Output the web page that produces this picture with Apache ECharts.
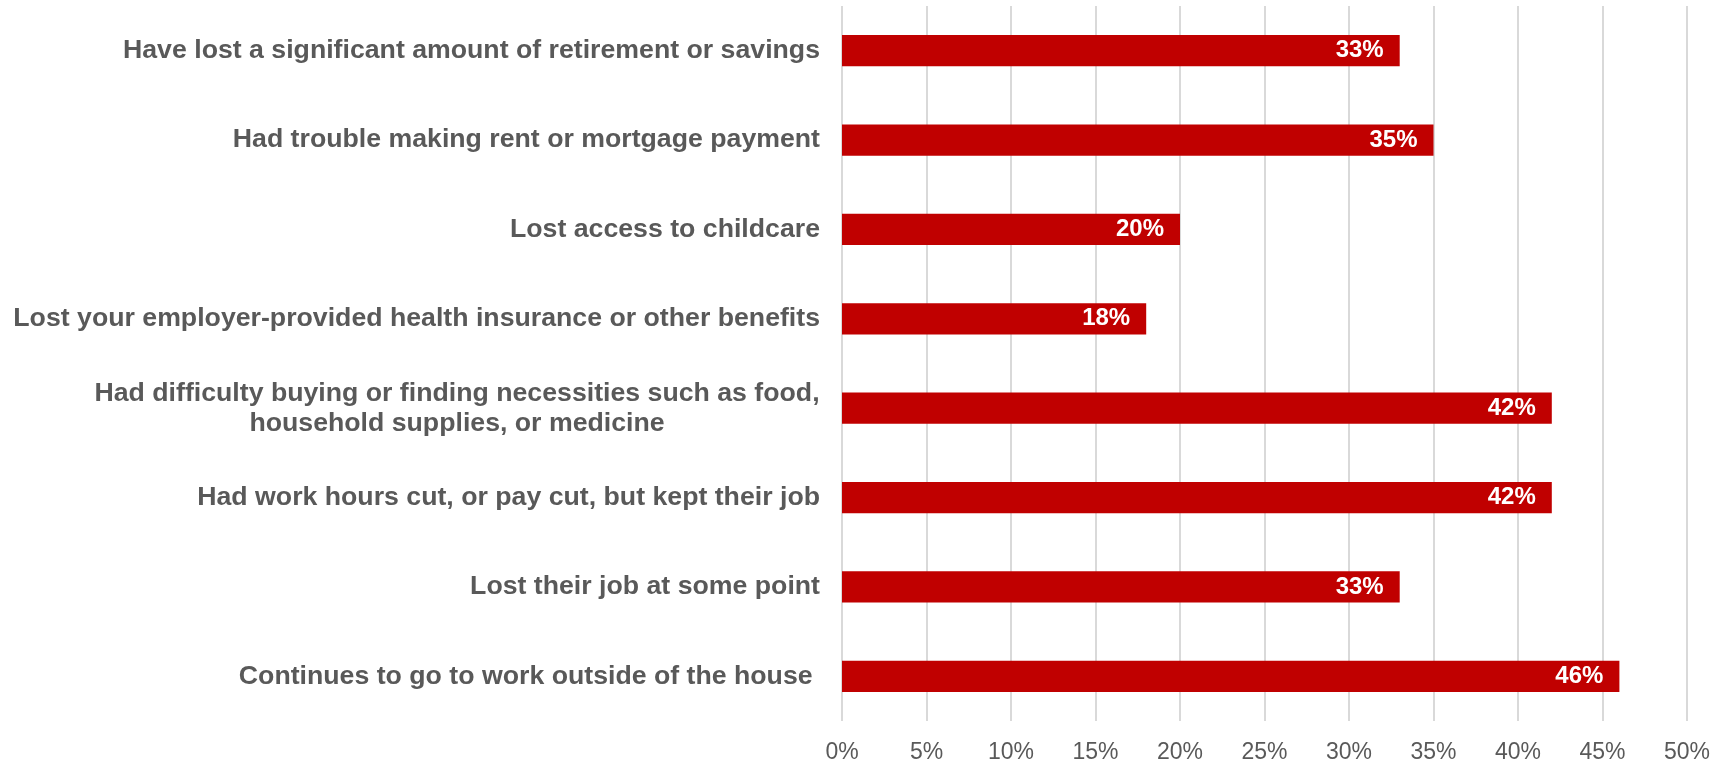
<!DOCTYPE html>
<html>
<head>
<meta charset="utf-8">
<style>
  html, body { margin: 0; padding: 0; background: #ffffff; }
  #chart { width: 1725px; height: 760px; }
</style>
<script src="https://cdn.jsdelivr.net/npm/echarts@6/dist/echarts.min.js"></script>
</head>
<body>
<div id="chart"></div>
<script>
// Survey items, listed top to bottom
const categories = [
  'Have lost a significant amount of retirement or savings',
  'Had trouble making rent or mortgage payment',
  'Lost access to childcare',
  'Lost your employer-provided health insurance or other benefits',
  'Had difficulty buying or finding necessities such as food,\nhousehold supplies, or medicine',
  'Had work hours cut, or pay cut, but kept their job',
  'Lost their job at some point',
  'Continues to go to work outside of the house '
];
// Share of respondents (%)
const shares = [33, 35, 20, 18, 42, 42, 33, 46];

const FONT_FAMILY = '"Liberation Sans", Arial, sans-serif';
const CAT_SIZE = 26.7;
const measureCtx = document.createElement('canvas').getContext('2d');
measureCtx.font = 'bold ' + CAT_SIZE + 'px ' + FONT_FAMILY;
function textWidth(s) { return Math.ceil(measureCtx.measureText(s).width); }

// Multi-line labels: lines centred on each other, block right-aligned to the axis
function formatLabel(value) {
  const lines = value.split('\n');
  if (lines.length === 1) return value;
  return lines.map(l => '{c|' + l + '}').join('\n');
}
function widestLine() {
  let w = 0;
  categories.forEach(c => {
    const lines = c.split('\n');
    if (lines.length > 1) lines.forEach(l => { w = Math.max(w, textWidth(l)); });
  });
  return w;
}

const chart = echarts.init(document.getElementById('chart'), null, { renderer: 'canvas' });
chart.setOption({
  animation: false,
  backgroundColor: '#ffffff',
  grid: {
    left: 842, right: 38, top: 6, bottom: 39,
    containLabel: false,
    outerBoundsMode: 'none'
  },
  xAxis: {
    type: 'value',
    min: 0,
    max: 50,
    interval: 5,
    axisLine: { show: false },
    axisTick: { show: false },
    splitLine: { show: true, lineStyle: { color: '#D9D9D9', width: 2 } },
    axisLabel: {
      formatter: '{value}%',
      color: '#595959',
      fontSize: 23,
      fontFamily: FONT_FAMILY,
      margin: 20
    }
  },
  yAxis: {
    type: 'category',
    inverse: true,
    data: categories,
    axisLine: { show: false },
    axisTick: { show: false },
    axisLabel: {
      color: '#595959',
      fontSize: CAT_SIZE,
      fontWeight: 'bold',
      fontFamily: FONT_FAMILY,
      margin: 22,
      lineHeight: 30,
      formatter: formatLabel,
      rich: {
        c: {
          width: widestLine(),
          align: 'center',
          color: '#595959',
          fontSize: CAT_SIZE,
          fontWeight: 'bold',
          fontFamily: FONT_FAMILY,
          lineHeight: 30
        }
      }
    }
  },
  series: [{
    type: 'bar',
    data: shares,
    barWidth: '35%',
    itemStyle: { color: '#C00000' },
    label: {
      show: true,
      position: 'insideRight',
      distance: 16,
      formatter: '{c}%',
      color: '#ffffff',
      fontSize: 24,
      fontWeight: 'bold',
      fontFamily: FONT_FAMILY
    }
  }]
});
</script>
</body>
</html>
